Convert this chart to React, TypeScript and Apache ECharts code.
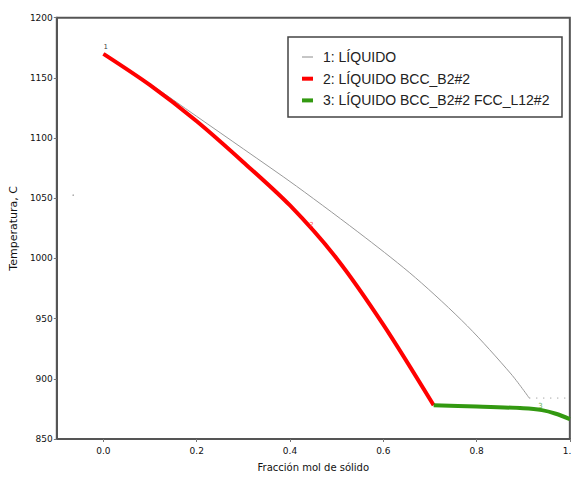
import React, { useEffect, useRef } from "react";
import * as echarts from "echarts";

// Fracción mol de sólido vs Temperatura (C)
const liquidCurve: [number, number][] = [
  [0, 1170], [0.1, 1145], [0.2, 1118], [0.3, 1091], [0.414, 1060], [0.5626, 1017],
  [0.669, 984], [0.78, 944], [0.874, 904], [0.913, 884],
];
const liquidTail: [number, number][] = [[0.913, 884], [1.0, 884]];
const bccCurve: [number, number][] = [
  [0, 1170], [0.1, 1144], [0.2, 1114], [0.3, 1080], [0.4, 1044], [0.5, 1000],
  [0.6, 945], [0.708, 878],
];
const fccCurve: [number, number][] = [
  [0.708, 878], [0.8, 877], [0.9, 875.5], [0.94, 874], [0.97, 871], [1.0, 866.5],
];
const strayPoint: [number, number][] = [[-0.065, 1052.6]];
const curveLabels: { value: [number, number]; text: string; color: string }[] = [
  { value: [0.005, 1176], text: "1", color: "#000000" },
  { value: [0.446, 1028], text: "2", color: "#ff2020" },
  { value: [0.937, 877], text: "3", color: "#3a9a1a" },
];
const xTicks = [0, 0.2, 0.4, 0.6, 0.8, 1.0];
const legendNames = ["1: LÍQUIDO", "2: LÍQUIDO BCC_B2#2", "3: LÍQUIDO BCC_B2#2 FCC_L12#2"];
const legendColors = ["#8c8c8c", "#ff0000", "#339911"];
const legendWidths = [1, 4, 4];

export default function App() {
  const ref = useRef<HTMLDivElement>(null);
  useEffect(() => {
    if (!ref.current) return;
    const chart = echarts.init(ref.current, null, { renderer: "svg" });
    const tickFont = { fontFamily: "DejaVu Sans", fontSize: 9, color: "#111" };
    const legendGraphics: any[] = [
      {
        type: "rect",
        shape: { x: 288, y: 37, width: 274, height: 80 },
        style: { fill: "#fff", stroke: "#444", lineWidth: 1.5 },
        z: 100,
      },
    ];
    legendNames.forEach((n, i) => {
      const y = 57 + i * 21.7;
      legendGraphics.push({
        type: "line",
        shape: { x1: 302, y1: y, x2: 313, y2: y },
        style: { stroke: legendColors[i], lineWidth: legendWidths[i] },
        z: 101,
      });
      legendGraphics.push({
        type: "text",
        x: 323,
        y: y,
        style: {
          text: n,
          font: "14px 'Liberation Sans'",
          fill: "#222",
          verticalAlign: "middle",
          align: "left",
        },
        z: 101,
      });
    });
    chart.setOption({
      animation: false,
      backgroundColor: "#fff",
      grid: {
        left: 54.3,
        top: 17.7,
        right: 580 - 572.7,
        bottom: 477 - 442.6,
        show: true,
        borderColor: "#555",
        borderWidth: 2,
        backgroundColor: "transparent",
      },
      xAxis: {
        type: "value",
        min: -0.1,
        max: 1.0,
        name: "Fracción mol de sólido",
        nameLocation: "middle",
        nameGap: 23,
        nameTextStyle: { fontFamily: "DejaVu Sans", fontSize: 10, color: "#111" },
        splitLine: { show: false },
        axisLine: { onZero: false, lineStyle: { color: "#555", width: 2 } },
        axisTick: { customValues: xTicks, length: 3, inside: false, lineStyle: { color: "#777" } },
        axisLabel: {
          ...tickFont,
          margin: 7,
          customValues: xTicks,
          formatter: (v: number) => v.toFixed(1),
        },
      },
      yAxis: {
        type: "value",
        min: 850,
        max: 1200,
        interval: 50,
        name: "Temperatura, C",
        nameLocation: "middle",
        nameGap: 32,
        nameTextStyle: { fontFamily: "DejaVu Sans", fontSize: 11, color: "#111" },
        splitLine: { show: false },
        axisLine: { onZero: false, lineStyle: { color: "#555", width: 2 } },
        axisTick: { length: 3, lineStyle: { color: "#777" } },
        axisLabel: { ...tickFont, margin: 4, formatter: (v: number) => String(v) },
      },
      series: [
        {
          name: legendNames[0],
          type: "line",
          data: liquidCurve,
          smooth: 0.3,
          showSymbol: false,
          lineStyle: { color: "#999", width: 1 },
          z: 2,
        },
        {
          name: "tail",
          type: "line",
          data: liquidTail,
          showSymbol: false,
          lineStyle: { color: "#888", width: 1, type: [1, 6] },
          z: 2,
        },
        {
          name: legendNames[1],
          type: "line",
          data: bccCurve,
          smooth: 0.3,
          showSymbol: false,
          lineStyle: { color: legendColors[1], width: 4 },
          z: 3,
        },
        {
          name: legendNames[2],
          type: "line",
          data: fccCurve,
          smooth: 0.3,
          showSymbol: false,
          lineStyle: { color: legendColors[2], width: 4 },
          z: 3,
        },
        {
          name: "stray",
          type: "scatter",
          data: strayPoint,
          symbolSize: 1.5,
          itemStyle: { color: "#888" },
        },
        {
          name: "labels",
          type: "scatter",
          symbolSize: 0,
          z: 5,
          data: curveLabels.map((p) => ({
            value: p.value,
            label: {
              show: true,
              position: "inside",
              formatter: p.text,
              color: p.color,
              fontFamily: "DejaVu Sans",
              fontSize: 7,
            },
          })),
        },
      ],
      graphic: legendGraphics,
    });
    return () => chart.dispose();
  }, []);
  return (
    <div style={{ position: "fixed", left: 0, top: 0, width: 571, height: 477, overflow: "hidden", background: "#fff" }}>
      <div ref={ref} style={{ width: 580, height: 477 }} />
    </div>
  );
}
